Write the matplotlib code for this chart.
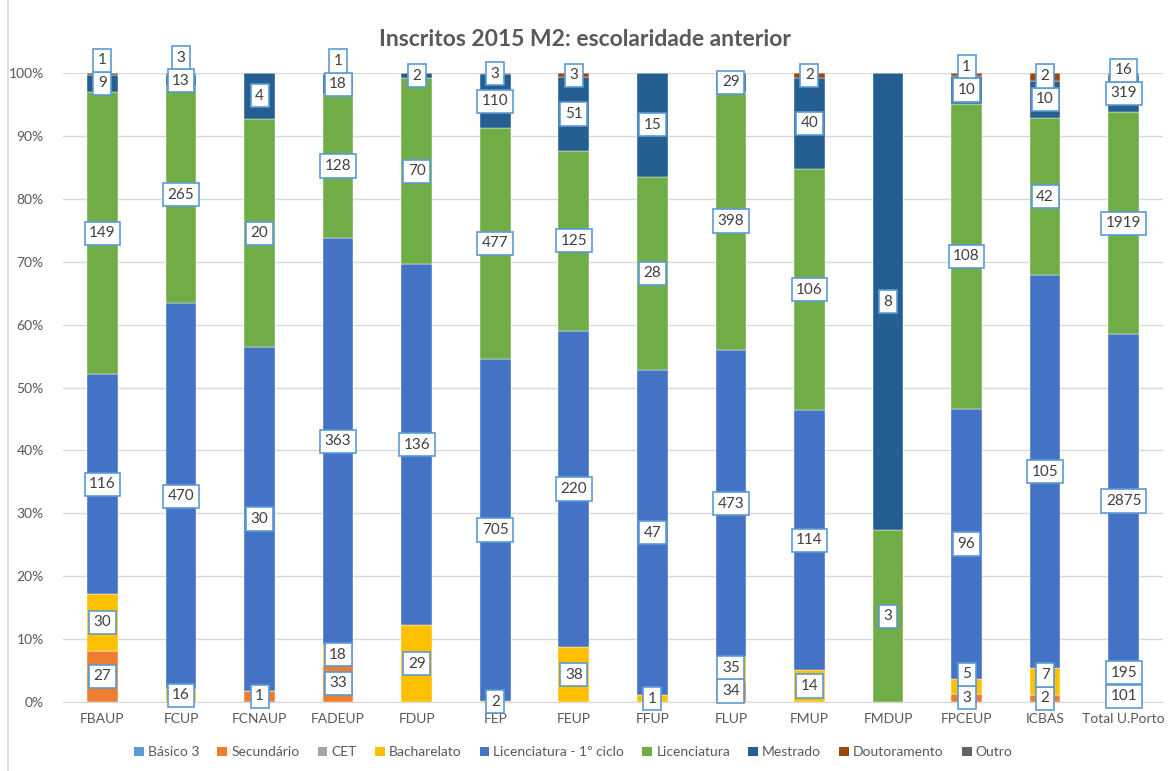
import numpy as np
import matplotlib
matplotlib.use("Agg")
import matplotlib.pyplot as plt
from matplotlib.patches import Patch

plt.rcParams['font.family'] = ['Lato', 'DejaVu Sans']

escolas = ['FBAUP', 'FCUP', 'FCNAUP', 'FADEUP', 'FDUP', 'FEP', 'FEUP', 'FFUP',
           'FLUP', 'FMUP', 'FMDUP', 'FPCEUP', 'ICBAS', 'Total U.Porto']

series = ['Básico 3', 'Secundário', 'CET', 'Bacharelato', 'Licenciatura - 1º ciclo',
          'Licenciatura', 'Mestrado', 'Doutoramento', 'Outro']

basico3 = [0, 0, 0, 0, 0, 0, 0, 0, 0, 0, 0, 0, 0, 0]
secundario = [27, 0, 1, 33, 0, 0, 0, 0, 34, 0, 0, 3, 2, 101]
cet = [0, 0, 0, 0, 0, 0, 0, 0, 0, 0, 0, 0, 0, 0]
bacharelato = [30, 16, 0, 18, 29, 2, 38, 1, 35, 14, 0, 5, 7, 195]
lic_1ciclo = [116, 470, 30, 363, 136, 705, 220, 47, 473, 114, 0, 96, 105, 2875]
licenciatura = [149, 265, 20, 128, 70, 477, 125, 28, 398, 106, 3, 108, 42, 1919]
mestrado = [9, 13, 4, 18, 2, 110, 51, 15, 29, 40, 8, 10, 10, 319]
doutoramento = [1, 3, 0, 1, 0, 3, 3, 0, 0, 2, 0, 1, 2, 16]
outro = [0, 0, 0, 0, 0, 0, 0, 0, 0, 0, 0, 0, 0, 0]

cores = ['#5B9BD5', '#ED7D31', '#A5A5A5', '#FFC000', '#4472C4',
         '#70AD47', '#255E91', '#9E480E', '#636363']

dados = np.array([basico3, secundario, cet, bacharelato, lic_1ciclo,
                  licenciatura, mestrado, doutoramento, outro], dtype=float)
totais = dados.sum(axis=0)
pct = dados / totais * 100

fig = plt.figure(figsize=(11.7, 7.71), dpi=100)
ax = fig.add_axes([0.054, 0.0895, 0.940, 0.8158])

x = np.arange(len(escolas))
base = np.zeros(len(escolas))
for i in range(len(series)):
    ax.bar(x, pct[i], 0.39, bottom=base, color=cores[i], zorder=2,
           edgecolor='white', linewidth=0.3)
    base += pct[i]

# etiquetas: centro do segmento, empurradas para cima se se sobrepõem
gap = 3.7
for j in range(len(escolas)):
    base = 0
    last = -100
    for i in range(len(series)):
        v = dados[i, j]
        if v > 0:
            yc = base + pct[i, j] / 2
            y = max(yc, last + gap)
            last = y
            ax.text(x[j], y, '%d' % v, ha='center', va='center', fontsize=11,
                    color='#404040', zorder=5,
                    bbox=dict(boxstyle='square,pad=0.3', fc='white',
                              ec='#5B9BD5', lw=1.2))
        base += pct[i, j]

ax.set_xlim(-0.5, len(escolas) - 0.5)
ax.set_ylim(0, 100)
ax.set_yticks(np.arange(0, 101, 10))
ax.set_yticklabels(['%d%%' % t for t in range(0, 101, 10)])
ax.set_xticks(x)
ax.set_xticklabels(escolas)
ax.tick_params(axis='both', length=0, colors='#595959', labelsize=10)
ax.tick_params(axis='x', pad=8)
ax.tick_params(axis='y', pad=14)
ax.yaxis.grid(True, color='#D9D9D9', linewidth=1, zorder=0)
for s in ['top', 'right', 'left']:
    ax.spines[s].set_visible(False)
ax.spines['bottom'].set_color('#D9D9D9')
ax.set_axisbelow(True)

fig.suptitle('Inscritos 2015 M2: escolaridade anterior', y=0.962, fontsize=16.5,
             fontweight='bold', color='#595959')

handles = [Patch(facecolor=c, edgecolor='none') for c in cores]
fig.legend(handles, series, loc='center', bbox_to_anchor=(0.49, 0.024), ncol=9,
           frameon=False, fontsize=10, handlelength=0.7, handleheight=0.7,
           handletextpad=0.3, columnspacing=1.3, labelcolor='#595959')

fig.add_artist(plt.Line2D([0.007, 0.007], [0, 1], color='#D9D9D9', lw=1.2))

fig.savefig('out.png', dpi=100)
